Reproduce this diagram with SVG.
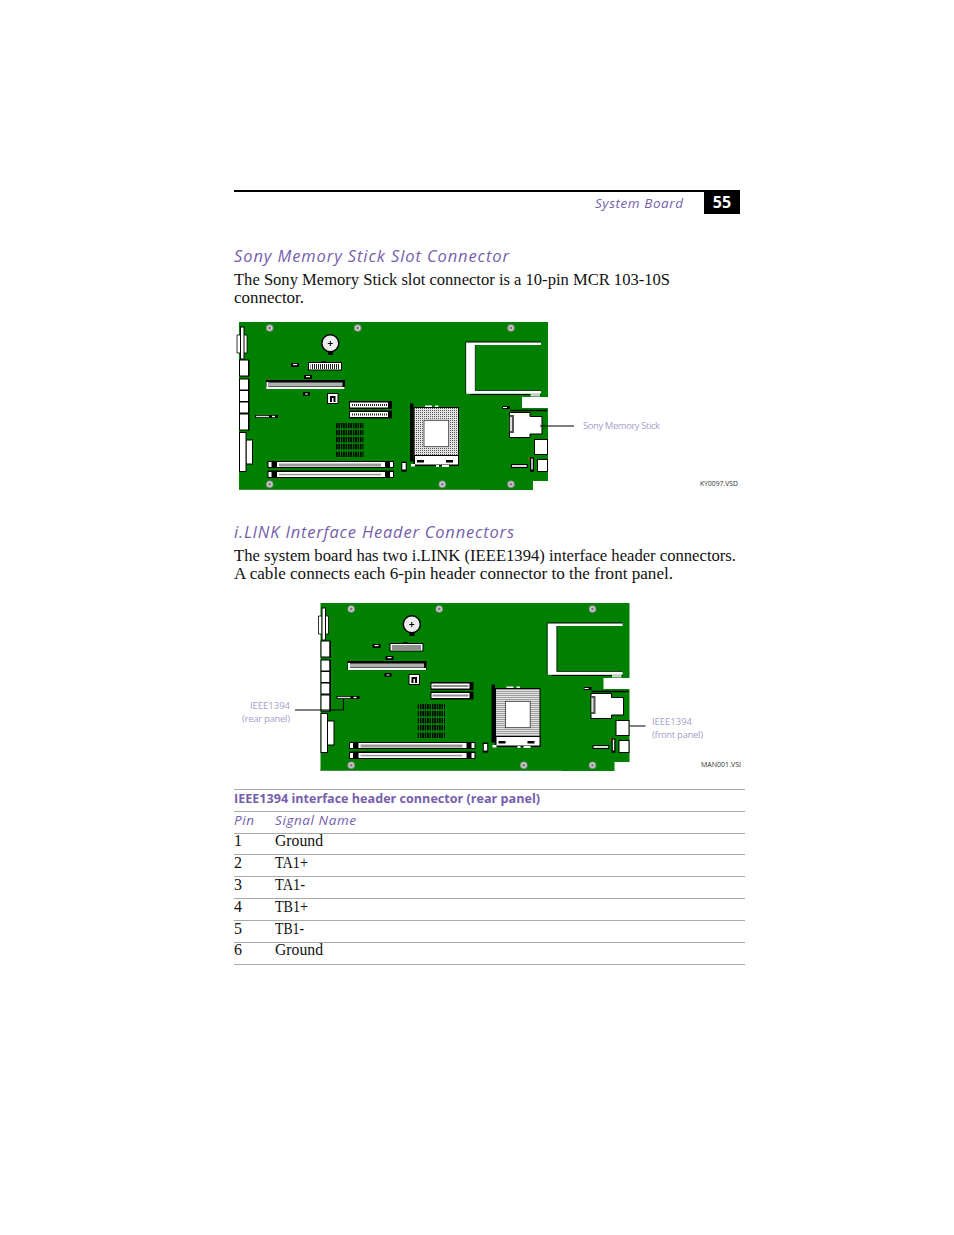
<svg xmlns="http://www.w3.org/2000/svg" width="954" height="1235" viewBox="0 0 954 1235">
<style>
.h{font-family:"Open Sans","Noto Sans",sans-serif;font-style:italic;fill:#7560ad}
.b{font-family:"Liberation Serif",serif;font-size:16px;fill:#111}
.l{font-family:"Open Sans","Noto Sans",sans-serif;font-size:9.500px;fill:#a79fcc}
.v{font-family:"Open Sans","Noto Sans",sans-serif;font-size:7.500px;fill:#333}
.w{fill:#fff}.k{fill:#000}.wk{fill:#fff;stroke:#000;stroke-width:1}
.ln{stroke:#000;stroke-width:1;fill:none}
.r{stroke:#aaa;stroke-width:1}
</style>
<defs>
<g id="screw"><circle r="3.800" fill="#8f8f8f"/><circle r="2.700" fill="#ccc"/><circle r="1.300" fill="#777"/></g>
<pattern id="dots" width="2" height="2" patternUnits="userSpaceOnUse"><rect width="2" height="2" fill="#e4e4e4"/><rect width="1" height="1" fill="#555"/></pattern>
<pattern id="pins" width="2" height="3" patternUnits="userSpaceOnUse"><rect width="2" height="3" fill="#fff"/><rect width="1" height="3" fill="#222"/></pattern>
<pattern id="arr" width="2.400" height="5" patternUnits="userSpaceOnUse"><rect width="1.500" height="5" fill="#000"/></pattern>
<g id="board">
<path d="M239 322H548V397H522V408H548V481H533V490H239Z" fill="#008000"/>
<path d="M239 489.500H480" stroke="#4a8a4a" stroke-width="1"/>
<path d="M240 335H237V353H240M244 335H247V353H244" fill="#fff" stroke="#000" stroke-width=".8"/>
<rect x="240.500" y="327" width="3.500" height="32" class="wk"/>
<g id="io-ports">
<rect x="239.500" y="360" width="9" height="16" class="wk"/><rect x="248" y="360" width="1.500" height="16.500" class="k"/>
<rect x="239.500" y="379" width="9" height="11" class="wk"/><rect x="248" y="379" width="1.500" height="11.500" class="k"/>
<rect x="239.500" y="390.500" width="9" height="11" class="wk"/><rect x="248" y="390.500" width="1.500" height="11.500" class="k"/>
<rect x="239.500" y="402" width="9" height="11" class="wk"/><rect x="248" y="402" width="1.500" height="11.500" class="k"/>
<rect x="239.500" y="414" width="9" height="16" class="wk"/><rect x="248" y="414" width="1.500" height="16.500" class="k"/>
</g>
<rect x="246" y="440" width="6.500" height="24" class="wk"/>
<rect x="239.500" y="432.500" width="6.500" height="39" class="wk" stroke-width="1.300"/>
<use href="#screw" x="269.700" y="328"/><use href="#screw" x="357.700" y="328"/><use href="#screw" x="511" y="328"/>
<use href="#screw" x="269.700" y="484.300"/><use href="#screw" x="442.300" y="484.300"/><use href="#screw" x="511" y="484.300"/>
<rect x="328" y="351" width="5" height="4" class="k"/>
<circle cx="330.300" cy="343.300" r="8.500" fill="#eee" stroke="#000" stroke-width="1.400"/>
<path d="M330.300 341v5M327.800 343.500h5" stroke="#000" stroke-width="1"/>
<rect x="322" y="361" width="4" height="1.500" class="k"/>
<rect x="308.500" y="362.500" width="33" height="7.500" class="wk"/>
<rect x="310.500" y="364" width="29" height="5" fill="url(#pins)"/>
<rect x="291" y="363" width="8" height="4" class="k"/><rect x="293" y="364" width="4" height="1.200" class="w"/>
<rect x="304" y="375" width="8" height="4" class="k"/><rect x="306" y="376" width="4" height="1.200" class="w"/>
<rect x="266" y="380" width="79" height="9" class="k"/>
<rect x="266.500" y="387" width="78" height="2" class="w"/><rect x="266.500" y="382" width="2" height="7" class="w"/>
<rect x="268.500" y="382.500" width="74" height="4" fill="#b0b0b0"/>
<circle cx="269" cy="379.500" r=".7" fill="#d33"/>
<rect x="303" y="392" width="7" height="3.700" class="k"/><rect x="305" y="393.500" width="3" height="1" class="w"/>
<rect x="327.500" y="393.500" width="10.500" height="10" class="wk"/>
<path d="M330 396h5.500v6h-5.500z" fill="#000"/><rect x="332" y="398" width="1.500" height="4" class="w"/>
<rect x="349" y="401" width="43" height="8" class="k"/><rect x="350" y="402.500" width="38" height="5" class="w"/><rect x="351" y="404" width="36" height="2" fill="url(#pins)"/>
<rect x="349" y="410.500" width="43" height="8" class="k"/><rect x="350" y="412" width="38" height="5" class="w"/><rect x="351" y="413.500" width="36" height="2" fill="url(#pins)"/>
<rect x="255" y="415" width="23" height="3" class="k"/><rect x="256" y="415.800" width="13" height="1.400" fill="#ddd"/><rect x="272" y="415.800" width="3" height="1.400" class="w"/>
<rect x="336" y="423" width="27.500" height="5.300" fill="url(#arr)"/><rect x="336" y="430" width="27.500" height="5.300" fill="url(#arr)"/><rect x="336" y="437" width="27.500" height="5.300" fill="url(#arr)"/><rect x="336" y="444" width="27.500" height="5.300" fill="url(#arr)"/><rect x="336" y="451.700" width="27.500" height="5.300" fill="url(#arr)"/>
<g id="dimm1"><rect x="267.500" y="461" width="126.500" height="7" class="k"/><rect x="268.500" y="462" width="3" height="5" class="w"/><rect x="390" y="462" width="3" height="5" class="w"/><rect x="277" y="462" width="108" height="5" class="w"/><rect x="279" y="463.500" width="102" height="3" fill="#9a9a9a"/></g>
<g id="dimm2"><rect x="267.500" y="470.500" width="126.500" height="7.500" class="k"/><rect x="268.500" y="472" width="3" height="5" class="w"/><rect x="390" y="472" width="3" height="5" class="w"/><rect x="277" y="472" width="108" height="5" class="w"/><rect x="279" y="473.800" width="102" height="1.500" fill="#999"/></g>
<circle cx="280" cy="469.300" r=".8" fill="#d33"/><circle cx="280" cy="479" r=".8" fill="#d33"/>
<path d="M466 342H541V345H475.300V390.500H541V393.700H466Z" fill="#fff"/>
<path d="M466 342H541M470 394.500H541" stroke="#000" stroke-width="1"/><path d="M465.700 342V394M475.300 345V390.500H541" stroke="#000" stroke-width=".7" fill="none"/>
<rect x="530.500" y="394" width="9.500" height="2.500" fill="#ccc"/>
<rect x="410" y="403.500" width="3.500" height="58" class="k"/>
<rect x="425" y="405.500" width="7" height="2" class="w"/><rect x="435" y="405.500" width="3.500" height="2" class="w"/>
<rect x="414" y="407.500" width="44.500" height="58" fill="url(#dots)" stroke="#000" stroke-width="1"/>
<rect x="424" y="420.300" width="24.700" height="26.400" class="w" stroke="#333" stroke-width=".8"/>
<rect x="414.500" y="455.500" width="44" height="9.500" class="w" stroke="#000"/>
<rect x="417" y="460" width="7" height="2.500" class="k"/><rect x="446" y="460" width="7" height="2.500" class="k"/>
<rect x="436" y="465" width="3" height="2" class="w"/><rect x="442" y="465" width="7" height="2" class="w"/><rect x="411" y="464" width="4" height="2.500" class="w"/>
<rect x="401.300" y="461.700" width="5.400" height="10" class="k"/><rect x="402.300" y="463" width="3.400" height="6.500" class="w"/>
<rect x="502.300" y="406" width="7.700" height="3" class="k"/><rect x="503" y="407" width="4" height="1" class="w"/>
<path d="M510 410.500H547" stroke="#000" stroke-width="1.300"/>
<path d="M509.500 412.500H530V416.500H542V434H530V437.500H509.500Z" fill="#fff" stroke="#000" stroke-width="1"/>
<rect x="509.500" y="415" width="4.500" height="18" fill="#555"/><rect x="510" y="417" width="2" height="14" fill="#ddd"/>
<rect x="534.500" y="439.500" width="13" height="15" class="wk"/>
<rect x="537.500" y="459.500" width="10" height="12" class="wk" stroke-width="1.500"/>
<rect x="530" y="457.300" width="4" height="14.400" class="k"/><rect x="531.300" y="458.500" width="1.400" height="11" class="w"/>
<rect x="511" y="464" width="16.700" height="4" class="k"/><rect x="512" y="465" width="14.700" height="2" fill="#ddd"/>
<circle cx="528.500" cy="459" r=".9" fill="#d33"/>
</g>
</defs>

<g id="header">
<rect x="234" y="190" width="506" height="2" fill="#000"/>
<text class="h" x="595" y="208" font-size="13.500" textLength="88" lengthAdjust="spacing">System Board</text>
<rect x="704" y="191" width="36" height="23" fill="#000"/>
<text x="722" y="208" text-anchor="middle" font-family="Open Sans,sans-serif" font-weight="700" font-size="16" fill="#fff">55</text>
</g>

<g id="section-memory-stick">
<text class="h" x="234" y="262" font-size="16.500" textLength="275" lengthAdjust="spacing">Sony Memory Stick Slot Connector</text>
<text class="b" x="234" y="285" textLength="436" lengthAdjust="spacingAndGlyphs">The Sony Memory Stick slot connector is a 10-pin MCR 103-10S</text>
<text class="b" x="234" y="303" textLength="70" lengthAdjust="spacingAndGlyphs">connector.</text>
</g>

<g id="board-1"><use href="#board"/></g>
<g id="label-memory-stick"><text class="l" x="583" y="429" textLength="77" lengthAdjust="spacing">Sony Memory Stick</text></g>
<text class="v" x="700" y="486" textLength="38" lengthAdjust="spacingAndGlyphs">KY0097.VSD</text>

<g id="section-ilink">
<text class="h" x="234" y="538" font-size="16.500" textLength="280" lengthAdjust="spacing">i.LINK Interface Header Connectors</text>
<text class="b" x="234" y="561" textLength="502" lengthAdjust="spacingAndGlyphs">The system board has two i.LINK (IEEE1394) interface header connectors.</text>
<text class="b" x="234" y="579" textLength="439" lengthAdjust="spacingAndGlyphs">A cable connects each 6-pin header connector to the front panel.</text>
</g>

<g id="board-2"><use href="#board" transform="translate(81.500 281)"/></g>
<g id="label-rear"><text class="l" x="250" y="709" textLength="40" lengthAdjust="spacing">IEEE1394</text><text class="l" x="242" y="722" textLength="48" lengthAdjust="spacing">(rear panel)</text></g>
<g id="label-front"><text class="l" x="652" y="725" textLength="40" lengthAdjust="spacing">IEEE1394</text><text class="l" x="652" y="738" textLength="51" lengthAdjust="spacing">(front panel)</text></g>
<text class="v" x="701" y="767" textLength="40" lengthAdjust="spacingAndGlyphs">MAN001.VSI</text>

<g id="connectors">
<path class="ln" d="M540 426H574"/>
<path class="ln" d="M295 710H343.500V699"/>
<path class="ln" d="M630 726H645.500"/>
</g>

<g id="table">
<path class="r" d="M234 789.500H745M234 811.500H745M234 833.500H745M234 854.500H745M234 876.500H745M234 898.500H745M234 920.500H745M234 942.500H745M234 964.500H745"/>
<text class="h" style="font-style:normal;font-weight:700" x="234" y="803" font-size="13" textLength="306" lengthAdjust="spacingAndGlyphs">IEEE1394 interface header connector (rear panel)</text>
<text class="h" x="234" y="825" font-size="13.500" textLength="20" lengthAdjust="spacing">Pin</text>
<text class="h" x="275" y="825" font-size="13.500" textLength="81" lengthAdjust="spacing">Signal Name</text>
<g class="b">
<text x="234" y="846">1</text><text x="275" y="846" textLength="48" lengthAdjust="spacingAndGlyphs">Ground</text>
<text x="234" y="868">2</text><text x="275" y="868" textLength="33" lengthAdjust="spacingAndGlyphs">TA1+</text>
<text x="234" y="890">3</text><text x="275" y="890" textLength="30" lengthAdjust="spacingAndGlyphs">TA1-</text>
<text x="234" y="912">4</text><text x="275" y="912" textLength="33" lengthAdjust="spacingAndGlyphs">TB1+</text>
<text x="234" y="934">5</text><text x="275" y="934" textLength="29" lengthAdjust="spacingAndGlyphs">TB1-</text>
<text x="234" y="955">6</text><text x="275" y="955" textLength="48" lengthAdjust="spacingAndGlyphs">Ground</text>
</g>
</g>
</svg>
